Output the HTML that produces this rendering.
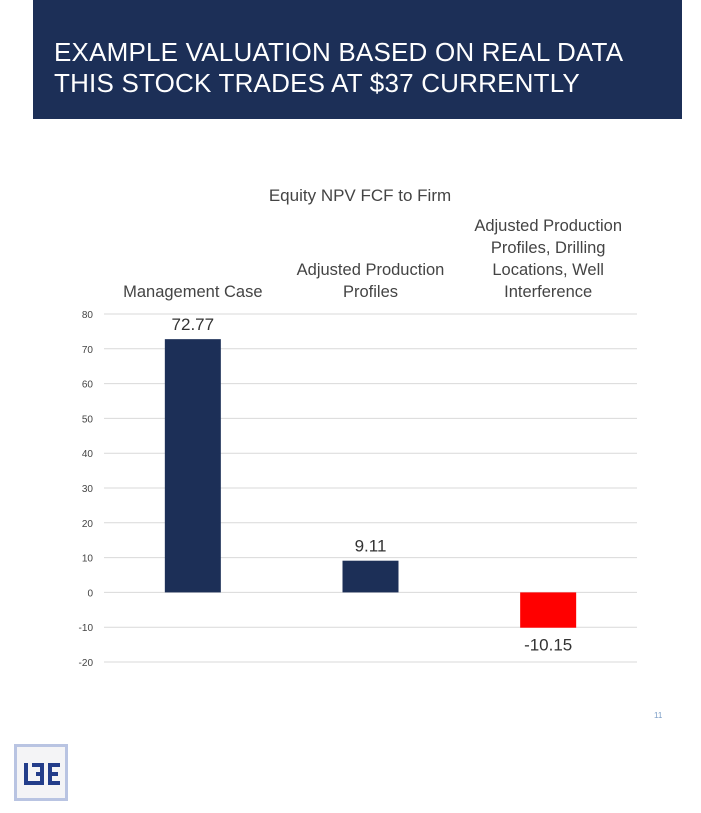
<!DOCTYPE html>
<html><head><meta charset="utf-8"><style>
body{margin:0;width:701px;height:813px;background:#fff;position:relative;overflow:hidden;font-family:"Liberation Sans",sans-serif}
.hdr{position:absolute;left:33px;top:0;width:649px;height:119px;background:#1c2f57;color:#fff;font-size:26px;line-height:31px;padding:37px 0 0 21px;box-sizing:border-box;letter-spacing:0.2px}
</style></head><body>
<div class="hdr">EXAMPLE VALUATION BASED ON REAL DATA<br>THIS STOCK TRADES AT $37 CURRENTLY</div>
<svg id="chart" width="701" height="813" style="position:absolute;left:0;top:0"></svg>
<div style="position:absolute;left:654px;top:711px;font-size:8px;color:#7a9cc6">11</div>
<svg style="position:absolute;left:14px;top:744px" width="54" height="57">
<rect x="1.5" y="1.5" width="51" height="54" fill="#f4f4f6" stroke="#b9c4e2" stroke-width="3"/>
<g fill="#233d8a"><rect x="10" y="19" width="4" height="22"/><rect x="10" y="37" width="16" height="4"/><rect x="18" y="19" width="12" height="4"/><rect x="26" y="19" width="4" height="22"/><rect x="22" y="28" width="8" height="4"/><rect x="34" y="19" width="12" height="4"/><rect x="34" y="28" width="10" height="4"/><rect x="34" y="37" width="12" height="4"/><rect x="34" y="19" width="4" height="22"/></g>
</svg>
<script>
const categories=[["Management Case"],["Adjusted Production","Profiles"],["Adjusted Production","Profiles, Drilling","Locations, Well","Interference"]];
const values=[72.77,9.11,-10.15];
const labels=["72.77","9.11","-10.15"];
const ticks=[80,70,60,50,40,30,20,10,0,-10,-20];
const svg=document.getElementById('chart');const NS="http://www.w3.org/2000/svg";
const x0=104,x1=637,yTop=314,yBot=662,vMax=80,vMin=-20;
const y=v=>yTop+(vMax-v)/(vMax-vMin)*(yBot-yTop);
const band=(x1-x0)/categories.length;
const cx=i=>x0+band*(i+0.5);
function mk(t,a,txt){const e=document.createElementNS(NS,t);for(const k in a)e.setAttribute(k,a[k]);if(txt!==undefined)e.textContent=txt;svg.appendChild(e);return e;}
const t=mk('text',{x:360,y:201,'text-anchor':'middle','font-size':17,fill:'#444'},'Equity NPV FCF to Firm');


ticks.forEach(v=>{const l=mk('line',{x1:x0,x2:x1,y1:y(v),y2:y(v),stroke:'#d9d9d9'});


const tx=mk('text',{x:93,y:y(v)+4,'text-anchor':'end','font-size':10,fill:'#444'},v);

});
values.forEach((v,i)=>{const w=56,top=Math.min(y(v),y(0)),h=Math.abs(y(v)-y(0));
const r=mk('rect',{x:cx(i)-w/2,y:top,width:w,height:h,fill:v<0?'#ff0000':'#1c2f57'});


const ly=v<0?y(v)+23:y(v)-9;
const lt=mk('text',{x:cx(i),y:ly,'text-anchor':'middle','font-size':17,fill:'#333'},labels[i]);


const lines=categories[i];lines.forEach((s,j)=>{const ct=mk('text',{x:cx(i),y:297-(lines.length-1-j)*22,'text-anchor':'middle','font-size':16.5,fill:'#444'},s);

});});
</script>
</body></html>
